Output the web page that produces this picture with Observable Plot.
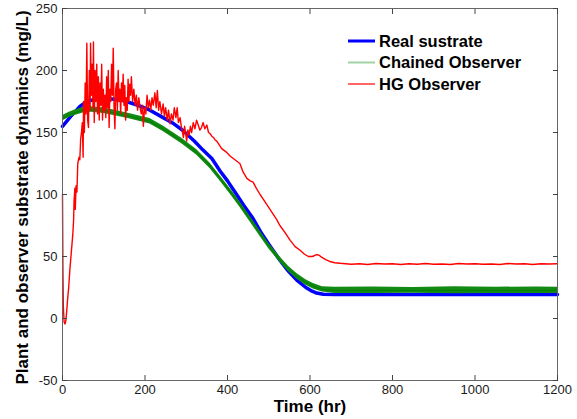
<!DOCTYPE html>
<html><head><meta charset="utf-8">
<script src="https://cdn.jsdelivr.net/npm/d3@7"></script>
<script src="https://cdn.jsdelivr.net/npm/@observablehq/plot@0.6"></script>
<style>body{margin:0;background:#fff;} #chart{width:577px;height:419px;}</style>
</head><body><div id="chart"></div>
<script>
const xTicks = [0, 200, 400, 600, 800, 1000, 1200];
const yTicks = [-50, 0, 50, 100, 150, 200, 250];
const xLabel = "Time (hr)";
const yLabel = "Plant and observer substrate dynamics (mg/L)";
const seriesNames = ["Real sustrate", "Chained Observer", "HG Observer"];

// Real substrate (blue)
const blueT = [0,10,20,30,42,55,67,90,120,150,164,190,212,244,270,292,320,340,362,382,400,420,440,462,480,500,527,548,568,590,605,616,632,660,800,1000,1200];
const blueS = [155,159,163,166.5,171,174,175.8,177,177,175.5,174,171,168,162,157,151.6,143,136,129,119,111,101,91,80.6,70,60,47,38,31,25,22,20.5,19.5,19.3,19.3,19.3,19.3];

// Chained observer (green): centre and noise envelope
const greenT  = [0,15,30,50,70,100,130,164,212,244,290,325,358,382,410,430,455,480,500,527,548,568,590,608,630,660,750,850,950,1050,1150,1200];
const greenS  = [161.5,164,166,168,168.5,167.5,165.5,163,159,153,143,134,123,113,101,92,80,68,58.5,47.5,40,34,29,26,23.5,22.7,22.7,22.7,22.7,22.7,22.7,22.7];
const greenLo = [159.3,161.8,163.8,165.8,166.3,165.3,163.3,160.8,156.8,150.8,140.8,131.8,120.8,110.8,98.8,89.8,77.8,65.8,56.3,45.3,37.8,31.8,26.8,23.8,21.3,20.2,20.1,20.3,20.0,20.2,20.1,20.2];
const greenHi = [163.7,166.2,168.2,170.2,170.7,169.7,167.7,165.2,161.2,155.2,145.2,136.2,125.2,115.2,103.2,94.2,82.2,70.2,60.7,49.7,42.2,36.2,31.2,28.2,25.7,25.3,25.5,25.1,25.6,25.2,25.5,25.3];

// HG observer (red)
const redT = [0,1,2,4,6,8,10,12,15,18,20,23,25,27,28,30,31,33,35,37,40,42,44,46,48,50,51,53,55,57,59,61,63,65,67,68,70,72,74,75,77,79,81,83,85,87,89,91,93,95,97,99,101,103,105,107,109,111,113,115,117,119,121,123,125,127,129,131,133,135,137,139,141,143,145,147,149,151,153,155,157,159,161,163,165,167,170,173,176,179,182,185,188,191,194,196,199,202,205,208,211,214,217,220,224,227,230,233,236,240,244,247,250,254,257,261,264,268,271,275,278,281,285,288,291,293,296,299,301,304,307,310,313,317,321,325,329,333,337,341,345,350,354,358,362,366,370,374,378,382,386,390,394,398,406,414,422,430,438,447,455,462,470,479,487,495,503,511,519,527,540,552,564,576,586,596,606,616,622,628,638,648,660,673,700,720,740,760,780,800,820,840,860,880,900,920,940,960,980,1000,1020,1040,1060,1080,1100,1120,1140,1160,1180,1200];
const redS = [100,40,10,-3,-4.5,-2,5,14,25,40,48,60,68,80,95,105,88,107,102,125,130,128,145,150,158,130,175,150,190,165,222,160,154,200,168,222,180,205,170,223,158,200,175,205,165,195,160,190,172,205,160,185,168,180,162,195,170,200,154,185,175,205,180,218,170,153,185,190,168,200,175,185,165,190,175,197,172,188,160,178,168,193,175,189,180,195,175,185,172,180,168,178,170,165,172,155,170,165,180,170,176,168,178,172,182,170,184,168,175,165,173,163,170,160,168,157,165,160,170,162,170,158,162,155,150,146,155,148,143,152,148,155,150,158,153,160,156,152,154,158,153,156,150,149,147,146,144,143,141,139,137,136,135,134,131,129,127,125,118,113,111,110,105,100,96,92,88,84,80,75,69,63,58,55,52,50,50,51.5,51,49.5,47.5,46,45,44.5,43.8,44.2,43.6,44.3,43.9,44.1,43.5,44.2,43.8,44.4,43.7,44.0,43.6,44.3,43.9,44.2,43.8,44.0,43.6,44.3,43.9,44.2,43.5,44.1,43.9,44.1];

const blue = blueT.map((t, i) => ({t, s: blueS[i]}));
const green = greenT.map((t, i) => ({t, s: greenS[i], lo: greenLo[i], hi: greenHi[i]}));
const red = redT.map((t, i) => ({t, s: redS[i]}));

const colors = ["#0000ff", "#008000", "#ff0000"];
const font = "'Liberation Sans', Arial, Helvetica, sans-serif";
const fmt = d => String(d);

const plot = Plot.plot({
  width: 577, height: 419,
  marginLeft: 62, marginRight: 20, marginTop: 8, marginBottom: 39,
  style: {fontFamily: font, background: "white", overflow: "visible"},
  x: {domain: [0, 1200], label: null},
  y: {domain: [-50, 250], label: null},
  marks: [
    Plot.line(blue, {x: "t", y: "s", stroke: colors[0], strokeWidth: 3.5}),
    Plot.areaY(green, {x: "t", y1: "lo", y2: "hi", fill: "#138a13"}),
    Plot.line(green, {x: "t", y: "s", stroke: colors[1], strokeWidth: 1}),
    Plot.line(red, {x: "t", y: "s", stroke: colors[2], strokeWidth: 1.4}),
    Plot.frame({stroke: "#666"}),
    Plot.axisX(xTicks, {anchor: "bottom", tickSize: 0, tickPadding: 4, fontSize: 13, tickFormat: fmt, color: "#1a1a1a"}),
    Plot.axisX(xTicks, {anchor: "bottom", tickSize: 5, dy: -5, tickFormat: () => "", stroke: "#444"}),
    Plot.axisX(xTicks, {anchor: "top", tickSize: 5, dy: 5, tickFormat: () => "", stroke: "#444"}),
    Plot.axisY(yTicks, {anchor: "left", tickSize: 0, tickPadding: 5, fontSize: 13, tickFormat: fmt, color: "#1a1a1a"}),
    Plot.axisY(yTicks, {anchor: "left", tickSize: 5, dx: 5, tickFormat: () => "", stroke: "#444"}),
    Plot.axisY(yTicks, {anchor: "right", tickSize: 5, dx: -5, tickFormat: () => "", stroke: "#444"}),
    Plot.text([xLabel], {text: d => d, frameAnchor: "bottom", dy: 31, lineAnchor: "bottom", fontSize: 17, fontWeight: "bold", fill: "black"}),
    Plot.text([yLabel], {text: d => d, frameAnchor: "left", dx: -35, dy: 3, rotate: -90, lineAnchor: "bottom", textAnchor: "middle", fontSize: 17, fontWeight: "bold", fill: "black"})
  ]
});
document.getElementById("chart").appendChild(plot);

// legend (inside plot area, no box)
const svg = d3.select(plot);
const lg = svg.append("g").attr("font-family", font).attr("text-anchor", "start");
const legendStroke = [colors[0], "#a3d1a3", colors[2]];
const legendWidth = [3, 2, 1.2];
seriesNames.forEach((name, i) => {
  const y = 41 + i * 21.5;
  lg.append("line").attr("x1", 348).attr("x2", 375).attr("y1", y).attr("y2", y)
    .attr("stroke", legendStroke[i]).attr("stroke-width", legendWidth[i]);
  lg.append("text").attr("x", 379).attr("y", y).attr("dy", "0.36em")
    .attr("text-anchor", "start")
    .attr("font-size", 16.5).attr("font-weight", "bold").attr("fill", "black").text(name);
});
</script>
</body></html>
